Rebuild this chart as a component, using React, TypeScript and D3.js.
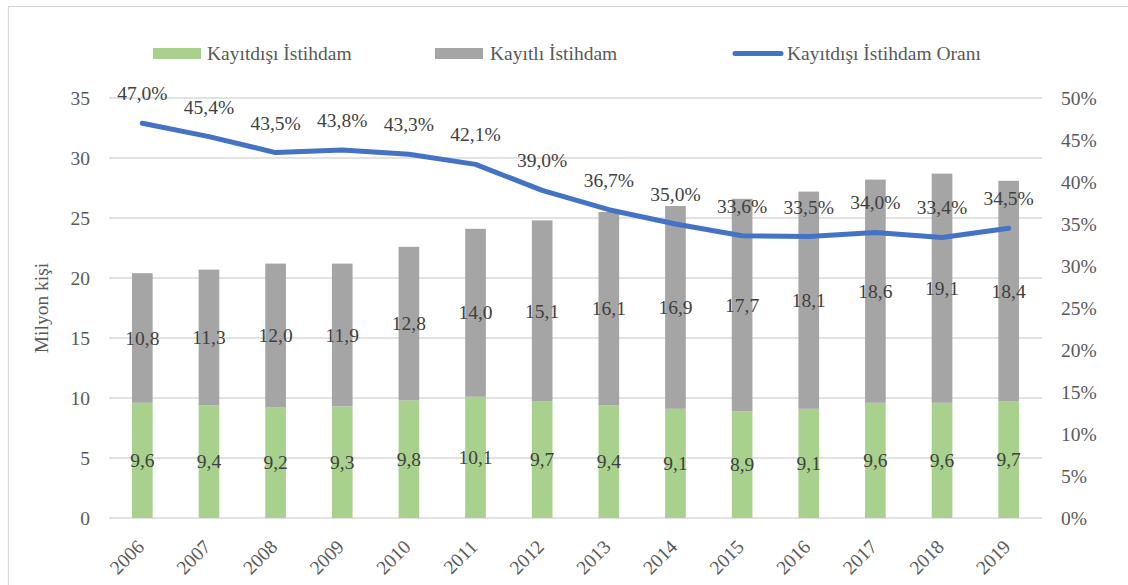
import React from "react";
import * as d3 from "d3";

const years = ["2006","2007","2008","2009","2010","2011","2012","2013","2014","2015","2016","2017","2018","2019"];
const informal = [9.6, 9.4, 9.2, 9.3, 9.8, 10.1, 9.7, 9.4, 9.1, 8.9, 9.1, 9.6, 9.6, 9.7];
const formal = [10.8, 11.3, 12.0, 11.9, 12.8, 14.0, 15.1, 16.1, 16.9, 17.7, 18.1, 18.6, 19.1, 18.4];
const rate = [47.0, 45.4, 43.5, 43.8, 43.3, 42.1, 39.0, 36.7, 35.0, 33.6, 33.5, 34.0, 33.4, 34.5];
const leftTicks = [0, 5, 10, 15, 20, 25, 30, 35];
const rightTicks = [0, 5, 10, 15, 20, 25, 30, 35, 40, 45, 50];
const legendLabels = ["Kayıtdışı İstihdam", "Kayıtlı İstihdam", "Kayıtdışı İstihdam Oranı"];

const W = 1128, H = 585;
const plotLeft = 109, plotRight = 1042, plotTop = 98, plotBottom = 518;
const FONT = '"Liberation Serif", "DejaVu Serif", serif';
const FS = 19.5;
const GREEN = "#A9D18E", GREY = "#A5A5A5", BLUE = "#4472C4";
const AXIS_TXT = "#595959", LABEL_TXT = "#404040", GRID = "#D9D9D9";

const fmt = (v: number, d = 1) => v.toFixed(d).replace(".", ",");

export default function App() {
  const x = d3.scaleBand<string>().domain(years).range([plotLeft, plotRight]).paddingInner(0.69).paddingOuter(0.345);
  const xc = (y: string) => (x(y) as number) + x.bandwidth() / 2;
  const yL = d3.scaleLinear().domain([0, 35]).range([plotBottom, plotTop]);
  const yR = d3.scaleLinear().domain([0, 50]).range([plotBottom, plotTop]);
  const bw = x.bandwidth();
  const line = d3.line<number>().x((_, i) => xc(years[i])).y((v) => yR(v));
  const ts = { fontFamily: FONT, fontSize: FS };

  return (
    <svg width={W} height={H} style={{ position: "absolute", left: 0, top: 0, background: "#fff", fontFamily: FONT }}>
      <rect x={8.5} y={6.5} width={1130} height={600} fill="#fff" stroke={GRID} strokeWidth={1.3} />
      {/* legend */}
      <g style={ts} fill={AXIS_TXT}>
        <rect x={153} y={48} width={48} height={11} fill={GREEN} />
        <text x={207} y={60}>{legendLabels[0]}</text>
        <rect x={435} y={48} width={48} height={11} fill={GREY} />
        <text x={490} y={60}>{legendLabels[1]}</text>
        <line x1={735} x2={781} y1={53.5} y2={53.5} stroke={BLUE} strokeWidth={5} strokeLinecap="round" />
        <text x={787} y={60}>{legendLabels[2]}</text>
      </g>
      {/* gridlines */}
      {leftTicks.map((t) => (
        <line key={t} x1={plotLeft} x2={plotRight} y1={yL(t)} y2={yL(t)} stroke={GRID} strokeWidth={1.3} />
      ))}
      {/* left axis labels */}
      <g style={ts} fill={AXIS_TXT} textAnchor="end">
        {leftTicks.map((t) => (
          <text key={t} x={90} y={yL(t) + 6.5}>{t}</text>
        ))}
      </g>
      {/* right axis labels */}
      <g style={ts} fill={AXIS_TXT} textAnchor="start">
        {rightTicks.map((t) => (
          <text key={t} x={1061} y={yR(t) + 6.5}>{t}%</text>
        ))}
      </g>
      <text style={ts} transform={`translate(48,${(plotTop + plotBottom) / 2}) rotate(-90)`} fill={AXIS_TXT} textAnchor="middle">Milyon kişi</text>
      {/* bars */}
      {years.map((yr, i) => (
        <g key={yr}>
          <rect x={x(yr)} y={yL(informal[i])} width={bw} height={yL(0) - yL(informal[i])} fill={GREEN} />
          <rect x={x(yr)} y={yL(informal[i] + formal[i])} width={bw} height={yL(informal[i]) - yL(informal[i] + formal[i])} fill={GREY} />
        </g>
      ))}
      {/* bar labels */}
      <g style={ts} fill={LABEL_TXT} textAnchor="middle">
        {years.map((yr, i) => (
          <g key={yr}>
            <text x={xc(yr)} y={yL(informal[i] / 2) + 6.5}>{fmt(informal[i])}</text>
            <text x={xc(yr)} y={yL(informal[i] + formal[i] / 2) + 6.5}>{fmt(formal[i])}</text>
          </g>
        ))}
      </g>
      {/* line */}
      <path d={line(rate) as string} fill="none" stroke={BLUE} strokeWidth={5} strokeLinecap="round" strokeLinejoin="round" />
      <g style={ts} fill={LABEL_TXT} textAnchor="middle">
        {years.map((yr, i) => (
          <text key={yr} x={xc(yr)} y={yR(rate[i]) - 23}>{fmt(rate[i])}%</text>
        ))}
      </g>
      {/* x labels */}
      <g style={ts} fill={AXIS_TXT} textAnchor="end">
        {years.map((yr) => (
          <text key={yr} transform={`translate(${xc(yr) + 3},${548}) rotate(-45)`}>{yr}</text>
        ))}
      </g>
    </svg>
  );
}
